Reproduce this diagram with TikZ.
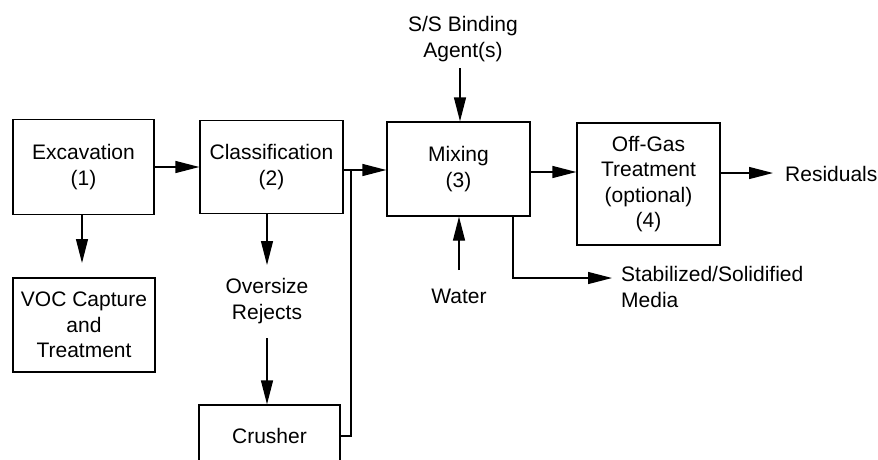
\documentclass[tikz,border=0pt]{standalone}
\usepackage{fontspec}
\setmainfont{Liberation Sans}
\usetikzlibrary{arrows.meta}
\begin{document}
\begin{tikzpicture}[x=1pt,y=-1pt,
  box/.style={draw,line width=1.3pt,align=center,inner sep=0pt},
  lbl/.style={align=center,inner sep=0pt},
  line/.style={line width=1.3pt},
  arr/.style={line width=1.3pt,-{Triangle[length=24pt,width=12pt]}},
  every node/.style={font=\fontsize{21}{25.5}\selectfont}]
\useasboundingbox (0,0) rectangle (878,459);
\begin{scope}
\clip (0,0) rectangle (878,459);
\node[box,minimum width=141pt,minimum height=95pt] (exc) at (83.5,167) {Excavation\\(1)};
\node[box,minimum width=143pt,minimum height=93pt] (cls) at (271.5,167) {Classification\\(2)};
\node[box,minimum width=143pt,minimum height=94pt] (mix) at (458.5,169) {Mixing\\(3)};
\node[box,minimum width=143pt,minimum height=122pt] (off) at (648.5,184) {Off-Gas\\Treatment\\(optional)\\(4)};
\node[box,minimum width=142pt,minimum height=94pt] (voc) at (84,325) {VOC Capture\\and\\Treatment};
\node[box,minimum width=141pt,minimum height=62pt] (cru) at (269.5,436) {Crusher};
\node[lbl] (ss) at (463,39) {S/S Binding\\Agent(s)};
\node[lbl] (wat) at (459,296) {Water};
\node[lbl] (ovr) at (267,301) {Oversize\\Rejects};
\node[lbl,anchor=west] (res) at (785,174) {Residuals};
\node[lbl,anchor=west,align=left] (stab) at (621,287) {Stabilized/Solidified\\Media};
\coordinate (j) at (351,170);
\coordinate (jc) at (351,436);
\coordinate (excd) at (82,263);
\coordinate (clsd) at (267,265);
\coordinate (ovrd) at (267,338);
\coordinate (ssd) at (460,68);
\coordinate (watu) at (459,270);
\coordinate (mixd) at (513,216);
\coordinate (mixc) at (513,278);
\coordinate (stabe) at (612,278);
\coordinate (rese) at (773,173);
\coordinate (mo) at (0,172);
\draw[arr] (exc.east) -- (cls.west);
\draw[line] (cls.east |- j) -- (j);
\draw[arr] (j) -- (j -| mix.west);
\draw[line] (cru.east) -- (jc) -- (j);
\draw[arr] (mix.east |- mo) -- (off.west |- mo);
\draw[arr] (off.east |- rese) -- (rese);
\draw[arr] (exc.south -| excd) -- (excd);
\draw[arr] (cls.south -| clsd) -- (clsd);
\draw[arr] (ovrd) -- (ovrd |- cru.north);
\draw[arr] (ssd) -- (ssd |- mix.north);
\draw[arr] (watu) -- (watu |- mix.south);
\draw[arr] (mixd) -- (mixc) -- (stabe);
\end{scope}
\end{tikzpicture}
\end{document}
